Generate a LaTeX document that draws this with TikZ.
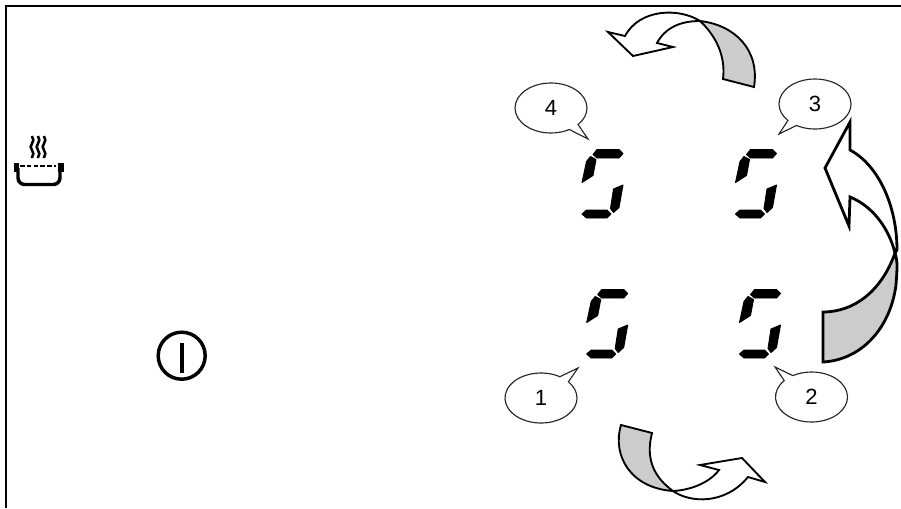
\documentclass[tikz,border=0pt]{standalone}
\usepackage{fontspec}
\setmainfont{Liberation Sans}
\usetikzlibrary{shapes.callouts}
\usetikzlibrary{decorations.pathmorphing}
\tikzset{
  bubble/.style={ellipse callout,draw=black!85,line width=0.85pt,fill=white,inner sep=0pt,minimum width=54pt,minimum height=37.5pt,callout pointer arc=18,font=\fontsize{16.5}{18}\selectfont},
  sweep/.style={draw=black,fill=white,line join=miter},
  band/.style={draw=black,fill=black!20,line join=miter},
  segment/.style={fill=black,draw=black,line width=0.7pt,line join=round},
  pothand/.style={draw=black,line width=2.6pt}
}
\begin{document}
\begin{tikzpicture}[x=0.75pt,y=0.75pt,yscale=-1,xscale=1]
\useasboundingbox (0,0) rectangle (901,508);

%Frame
\draw [line width=2pt] (6,508) -- (6,6) -- (901,6) ;

%Display digits
\foreach \dx/\dy in {0/0,153.5/0,4.7/140,157.5/140}{
\begin{scope}[shift={(\dx,\dy)}]
\path [segment] (593,154.5) -- (597,149.5) -- (619,149.5) -- (623,153.5) -- (619,158) -- (597,158) -- cycle ;
\path [segment] (582,182.5) -- (586.5,161.5) -- (590.5,156.5) -- (596,159.5) -- (593,175.5) -- cycle ;
\path [segment] (623,185) -- (613.5,189) -- (610.5,208.5) -- (613.5,212.5) -- (619,207.5) -- cycle ;
\path [segment] (582,214) -- (586.5,210) -- (607,210) -- (611,214) -- (607,218) -- (586.5,218) -- cycle ;
\end{scope}
}

%Top arrow
\draw [sweep,line width=1.4pt] (700,21) .. controls (680,8) and (640,8) .. (625,36) -- (608,32) -- (633,56) -- (673,47) -- (657,43) .. controls (665,28) and (680,21) .. (700,21) -- cycle ;
\draw [band,line width=1.4pt] (700,21) .. controls (735,25) and (760,50) .. (754,87) -- (723,79) .. controls (726,55) and (715,35) .. (700,21) -- cycle ;

%Right arrow
\draw [sweep,line width=2.1pt] (895,253) .. controls (888,225) and (870,205) .. (850,197) -- (849,226) -- (825,168) -- (850,122) -- (850,150) .. controls (878,165) and (897,205) .. (897,250) -- cycle ;
\draw [band,line width=2.1pt] (823,312) .. controls (855,312) and (882,290) .. (895,253) .. controls (898,262) and (897,270) .. (896,285) .. controls (890,330) and (860,360) .. (823,362) -- cycle ;

%Bottom arrow
\draw [sweep,line width=1.4pt] (673,491) .. controls (690,503) and (725,505) .. (748,477) -- (765,482) -- (742,458) -- (700,465) -- (719,470) .. controls (710,482) and (692,490) .. (673,491) -- cycle ;
\draw [band,line width=1.4pt] (621,425) .. controls (612,455) and (630,488) .. (673,491) .. controls (655,478) and (645,460) .. (652,433) -- cycle ;

% Text Node
\node [bubble,callout absolute pointer={(588,139)}] (four) at (551,108) {4};
% Text Node
\node [bubble,callout absolute pointer={(779,134)}] (three) at (815,104) {3};
% Text Node
\node [bubble,callout absolute pointer={(775,367)}] (two) at (811.5,397) {2};
% Text Node
\node [bubble,callout absolute pointer={(578,368)}] (one) at (541,398) {1};

%Power symbol
\draw [line width=2.6pt] (181.7,355.7) circle [radius=23.5] ;
\draw [line width=3pt] (181.7,343) -- (181.7,372.5) ;

%Pot symbol
\foreach \sx in {32,38,44}{
\draw [line width=1.9pt,decorate,decoration={snake,amplitude=1pt,segment length=10pt}] (\sx,136) -- (\sx,158) ;
}
\draw [pothand,line width=2.2pt,dash pattern=on 3.5pt off 1.6pt] (20,166) -- (56,166) ;
\draw [pothand,rounded corners=5pt] (18,168) -- (18,184.5) -- (60,184.5) -- (60,168) ;
\fill (14,163) rectangle (19,172) ;
\fill (58,163) rectangle (64,172) ;

\end{tikzpicture}
\end{document}
